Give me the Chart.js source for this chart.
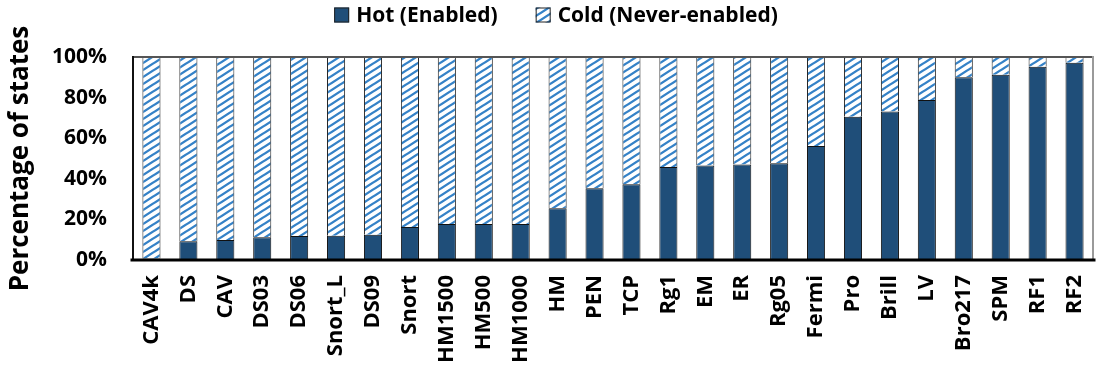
<!DOCTYPE html>
<html>
<head>
<meta charset="utf-8">
<script src="https://cdn.jsdelivr.net/npm/chart.js@4/dist/chart.umd.min.js"></script>
<style>
  html, body { margin: 0; padding: 0; background: #ffffff; }
  #wrap { width: 1099px; height: 372px; position: relative; }
</style>
</head>
<body>
<div id="wrap"><canvas id="chart"></canvas></div>
<script>
// Benchmarks, ordered by share of hot states
const categories = ['CAV4k', 'DS', 'CAV', 'DS03', 'DS06', 'Snort_L', 'DS09', 'Snort',
  'HM1500', 'HM500', 'HM1000', 'HM', 'PEN', 'TCP', 'Rg1', 'EM', 'ER', 'Rg05',
  'Fermi', 'Pro', 'Brill', 'LV', 'Bro217', 'SPM', 'RF1', 'RF2'];

// Percentage of states that were enabled at least once
const hotPct = [0.8, 9.2, 9.9, 11.2, 11.8, 11.9, 12.5, 16.3,
  17.7, 17.7, 17.7, 25.5, 35.3, 37.3, 45.8, 46.5, 47.1, 47.6,
  56.2, 70.6, 73.2, 78.8, 90.0, 91.3, 95.2, 97.2];

// Percentage of states that were never enabled
const coldPct = [99.2, 90.8, 90.1, 88.8, 88.2, 88.1, 87.5, 83.7,
  82.3, 82.3, 82.3, 74.5, 64.7, 62.7, 54.2, 53.5, 52.9, 52.4,
  43.8, 29.4, 26.8, 21.2, 10.0, 8.7, 4.8, 2.8];

const yTicks = [0, 20, 40, 60, 80, 100];

const FONT = '"Open Sans", "Noto Sans", "DejaVu Sans", sans-serif';

// Slanted hatch fill for the "cold" series
function makeHatch() {
  const w = 11, h = 7;
  const c = document.createElement('canvas');
  c.width = w; c.height = h;
  const g = c.getContext('2d');
  g.fillStyle = '#ffffff';
  g.fillRect(0, 0, w, h);
  g.strokeStyle = '#3582c7';
  g.lineWidth = 2.3;
  g.beginPath();
  [-h, 0, h].forEach(off => {
    g.moveTo(-w, h + off + h);
    g.lineTo(2 * w, off - 2 * h + h);
  });
  g.stroke();
  return g.createPattern(c, 'repeat');
}
const hatch = makeHatch();

// Frame around the plotting area
const framePlugin = {
  id: 'frame',
  afterDatasetsDraw(chart) {
    const { ctx, chartArea: a } = chart;
    ctx.save();
    ctx.lineCap = 'square';
    ctx.strokeStyle = '#555555';
    ctx.lineWidth = 2;
    ctx.beginPath(); ctx.moveTo(a.left, a.top); ctx.lineTo(a.right, a.top); ctx.stroke();
    ctx.strokeStyle = '#9a9a9a';
    ctx.beginPath(); ctx.moveTo(a.right, a.top); ctx.lineTo(a.right, a.bottom); ctx.stroke();
    ctx.strokeStyle = '#111111';
    ctx.beginPath(); ctx.moveTo(a.left, a.top); ctx.lineTo(a.left, a.bottom); ctx.stroke();
    ctx.strokeStyle = '#000000';
    ctx.lineWidth = 3;
    ctx.beginPath(); ctx.moveTo(a.left - 1, a.bottom); ctx.lineTo(a.right + 1, a.bottom); ctx.stroke();
    ctx.restore();
  }
};

// Legend row above the plot, built from the datasets
const legendRow = {
  id: 'legendRow',
  afterDraw(chart) {
    const { ctx } = chart;
    const box = 15, gapText = 7, gapItem = 38, cy = 15, centerX = 556;
    ctx.save();
    ctx.font = 'bold 21px ' + FONT;
    ctx.textBaseline = 'middle';
    const items = chart.data.datasets.map(ds => ({
      text: ds.label, fill: ds.backgroundColor, w: ctx.measureText(ds.label).width
    }));
    const total = items.reduce((s, it) => s + box + gapText + it.w, 0) + gapItem * (items.length - 1);
    let x = centerX - total / 2;
    items.forEach(it => {
      ctx.fillStyle = it.fill;
      ctx.fillRect(x, cy - box / 2, box, box);
      ctx.strokeStyle = '#222222';
      ctx.lineWidth = 1;
      ctx.strokeRect(x + 0.5, cy - box / 2 + 0.5, box - 1, box - 1);
      ctx.fillStyle = '#000000';
      ctx.fillText(it.text, x + box + gapText, cy + 1);
      x += box + gapText + it.w + gapItem;
    });
    ctx.restore();
  }
};

new Chart(document.getElementById('chart'), {
  type: 'bar',
  data: {
    labels: categories,
    datasets: [
      {
        label: 'Hot (Enabled)',
        data: hotPct,
        backgroundColor: '#1f4e79',
        borderColor: '#111111',
        borderWidth: 1,
        barPercentage: 0.49,
        categoryPercentage: 1.0
      },
      {
        label: 'Cold (Never-enabled)',
        data: coldPct,
        backgroundColor: hatch,
        borderColor: '#222222',
        borderWidth: 1,
        barPercentage: 0.49,
        categoryPercentage: 1.0
      }
    ]
  },
  options: {
    responsive: true,
    maintainAspectRatio: false,
    animation: false,
    layout: { padding: { left: 0, right: 6, top: 57, bottom: 0 } },
    plugins: {
      legend: { display: false },
      tooltip: { enabled: false }
    },
    scales: {
      x: {
        stacked: true,
        grid: { display: false, drawTicks: false },
        border: { display: false },
        ticks: {
          color: '#000000',
          autoSkip: false,
          maxRotation: 90,
          minRotation: 90,
          padding: 15,
          font: { family: FONT, size: 22, weight: 'bold' }
        },
        afterFit(scale) {
          scale.height = 112;
          scale.paddingLeft = 0;
          scale.paddingRight = 0;
        }
      },
      y: {
        stacked: true,
        min: 0,
        max: 100,
        afterBuildTicks(scale) { scale.ticks = yTicks.map(v => ({ value: v })); },
        grid: { display: false, drawTicks: false },
        border: { display: false },
        title: {
          display: true,
          text: 'Percentage of states',
          color: '#000000',
          padding: { top: 5, bottom: 0 },
          font: { family: FONT, size: 26, weight: 'bold' }
        },
        ticks: {
          color: '#000000',
          padding: 26,
          callback: v => v + '%',
          font: { family: FONT, size: 21, weight: 'bold' }
        },
        afterFit(scale) {
          scale.width = 133;
          scale.paddingTop = 0;
          scale.paddingBottom = 0;
        }
      }
    }
  },
  plugins: [framePlugin, legendRow]
});
</script>
</body>
</html>
